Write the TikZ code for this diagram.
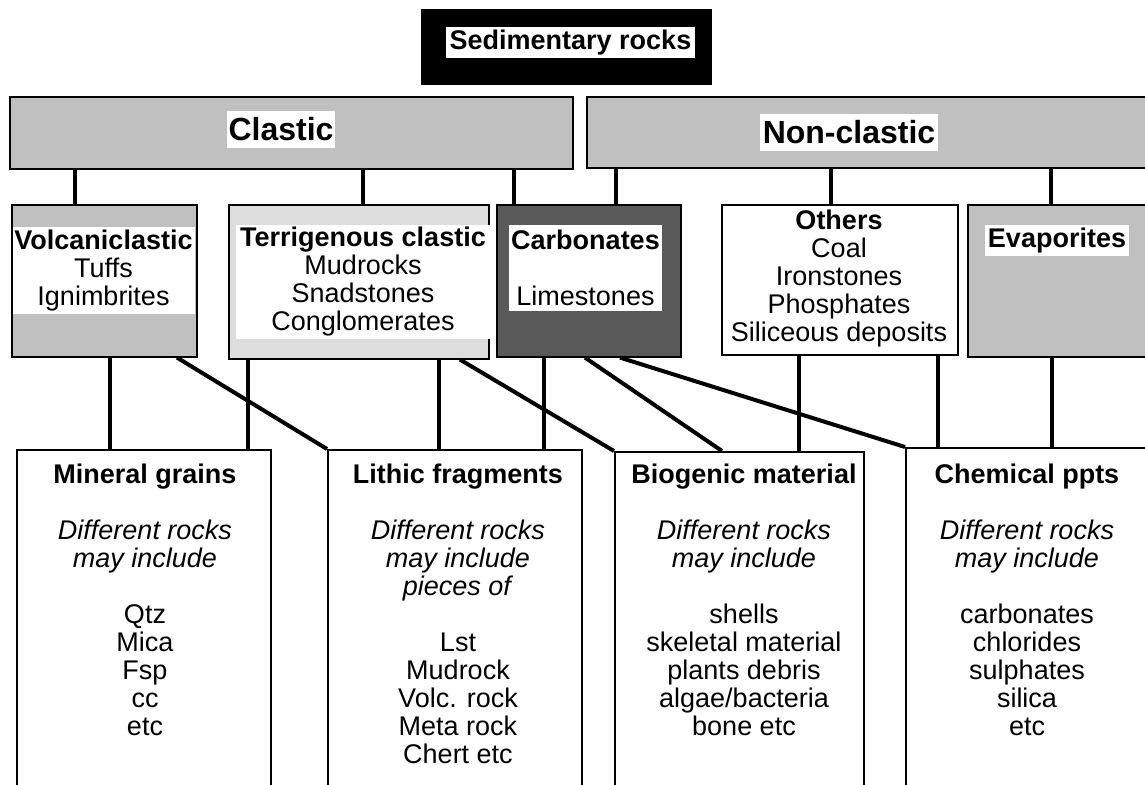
\documentclass[tikz,border=0pt]{standalone}
\usepackage{fontspec}
\setmainfont{Liberation Sans}
\usetikzlibrary{positioning}
\definecolor{midgray}{RGB}{192,192,192}
\definecolor{palegray}{RGB}{221,221,221}
\definecolor{darkrock}{RGB}{89,89,89}
\newcommand{\txt}{\fontsize{27}{28}\selectfont}
\newcommand{\hdtxt}{\fontsize{32}{36}\selectfont}

\begin{document}
\begin{tikzpicture}[x=1pt,y=-1pt,
  box/.style={draw,line width=1.6pt,inner sep=0pt,anchor=north west},
  tag/.style={fill=white,inner sep=0pt,align=center,font=\txt},
  body/.style={inner sep=0pt,align=center,font=\txt,anchor=north},
  link/.style={line width=4pt}]
  \useasboundingbox (0,0) rectangle (1145,784);
  \clip (0,0) rectangle (1145,784);
  % top
  \node[box,fill=black,minimum width=289pt,minimum height=74pt] (sed) at (421,9) {};
  \node[tag,minimum width=249pt,minimum height=31pt,font=\txt\bfseries] (sedlab) at (570.5,42.5) {Sedimentary rocks};
  \node[box,fill=midgray,minimum width=563pt,minimum height=72pt] (clastic) at (9,96) {};
  \node[tag,minimum width=108pt,minimum height=37pt,font=\hdtxt\bfseries] (clasticlab) at (281,129.5) {Clastic};
  \node[box,fill=midgray,minimum width=580pt,minimum height=71pt] (nonclastic) at (586,96) {};
  \node[tag,minimum width=178pt,minimum height=37pt,font=\hdtxt\bfseries] (nonclasticlab) at (849,132.5) {Non-clastic};
  % rock groups
  \node[box,fill=midgray,minimum width=185pt,minimum height=152pt] (volc) at (11,204) {};
  \node[tag,text width=182pt,minimum height=87pt] (volclab) at (103.5,270.5) {\textbf{Volcaniclastic}\\Tuffs\\Ignimbrites};
  \node[box,fill=palegray,minimum width=260pt,minimum height=154pt] (terr) at (228,204) {};
  \node[tag,minimum width=254pt,minimum height=114pt] (terrlab) at (363,282) {\textbf{Terrigenous clastic}\\Mudrocks\\Snadstones\\Conglomerates};
  \node[box,fill=darkrock,minimum width=184pt,minimum height=152pt] (carb) at (496,204) {};
  \node[tag,minimum width=153pt,minimum height=86pt] (carblab) at (585.5,268) {\textbf{Carbonates}\\[28pt]Limestones};
  \node[box,fill=white,minimum width=236pt,minimum height=150pt] (others) at (721,204) {};
  \node[body,anchor=center] (otherslab) at (839,279) {\textbf{Others}\\Coal\\Ironstones\\Phosphates\\Siliceous deposits};
  \node[box,fill=midgray,minimum width=200pt,minimum height=152pt] (evap) at (967,204) {};
  \node[tag,minimum width=144pt,minimum height=31pt,font=\txt\bfseries] (evaplab) at (1057,240.5) {Evaporites};
  % components
  \node[box,minimum width=254pt,minimum height=360pt] (mineral) at (16,449) {};
  \node[body] (minerallab) at (145,464) {\textbf{Mineral grains}\\[28pt]\textit{Different rocks}\\\textit{may include}\\[28pt]Qtz\\Mica\\Fsp\\cc\\etc};
  \node[box,minimum width=254pt,minimum height=360pt] (lithic) at (327,449) {};
  \node[body] (lithiclab) at (458,464) {\textbf{Lithic fragments}\\[28pt]\textit{Different rocks}\\\textit{may include}\\\textit{pieces of}\\[28pt]Lst\\Mudrock\\Volc. rock\\Meta rock\\Chert etc};
  \node[box,minimum width=249pt,minimum height=360pt] (bio) at (614,451) {};
  \node[body] (biolab) at (744,464) {\textbf{Biogenic material}\\[28pt]\textit{Different rocks}\\\textit{may include}\\[28pt]shells\\skeletal material\\plants debris\\algae/bacteria\\bone etc};
  \node[box,minimum width=260pt,minimum height=360pt] (chem) at (905,447) {};
  \node[body] (chemlab) at (1027,464) {\textbf{Chemical ppts}\\[28pt]\textit{Different rocks}\\\textit{may include}\\[28pt]carbonates\\chlorides\\sulphates\\silica\\etc};
  % links
  \draw[link] (clastic.south -| 75,0) -- (volc.north -| 75,0);
  \draw[link] (clastic.south -| 363,0) -- (terr.north -| 363,0);
  \draw[link] (clastic.south -| 514,0) -- (carb.north -| 514,0);
  \draw[link] (nonclastic.south -| 616,0) -- (carb.north -| 616,0);
  \draw[link] (nonclastic.south -| 831,0) -- (others.north -| 831,0);
  \draw[link] (nonclastic.south -| 1051,0) -- (evap.north -| 1051,0);
  \draw[link] (volc.south -| 110,0) -- (mineral.north -| 110,0);
  \draw[link] (volc.south -| 177,0) -- (lithic.north west);
  \draw[link] (terr.south -| 248,0) -- (mineral.north -| 248,0);
  \draw[link] (terr.south -| 439,0) -- (lithic.north -| 439,0);
  \draw[link] (terr.south -| 460,0) -- (bio.north west);
  \draw[link] (carb.south -| 544,0) -- (lithic.north -| 544,0);
  \draw[link] (carb.south -| 585,0) -- (bio.north -| 722,0);
  \draw[link] (carb.south -| 620,0) -- (chem.north west);
  \draw[link] (others.south -| 799,0) -- (bio.north -| 799,0);
  \draw[link] (others.south -| 938,0) -- (chem.north -| 938,0);
  \draw[link] (evap.south -| 1052,0) -- (chem.north -| 1052,0);
\end{tikzpicture}
\end{document}
